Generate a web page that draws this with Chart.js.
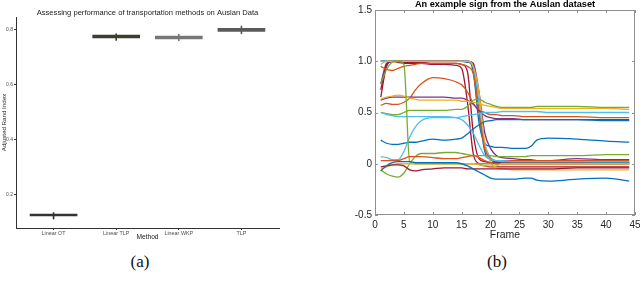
<!DOCTYPE html>
<html><head><meta charset="utf-8">
<script src="https://cdn.jsdelivr.net/npm/chart.js@4/dist/chart.umd.min.js"></script>
<style>
html,body{margin:0;padding:0;background:#fff;width:640px;height:291px;overflow:hidden;position:relative;}
canvas{position:absolute;}
.cap{position:absolute;font-family:"Liberation Serif","DejaVu Serif",serif;font-size:17px;color:#111;transform:translate(-50%,-50%);white-space:nowrap;}
</style></head><body>
<canvas id="ca" width="290" height="245" style="left:0;top:0;width:290px;height:245px"></canvas>
<canvas id="cb" width="310" height="245" style="left:330px;top:0;width:310px;height:245px"></canvas>
<div class="cap" style="left:140px;top:262px">(a)</div>
<div class="cap" style="left:497px;top:262px">(b)</div>
<script>
// ---------- (a) box plot data ----------
const methods = ["Linear OT", "Linear TLP", "Linear WKP", "TLP"];
const boxLow  = [0.1236, 0.771, 0.767, 0.795];
const boxHigh = [0.1310, 0.781, 0.778, 0.806];
const whiskLow  = [0.1127, 0.762, 0.761, 0.786];
const whiskHigh = [0.1357, 0.786, 0.784, 0.814];
const yTicksA = [0.2, 0.4, 0.6, 0.8];
const boxColors = ["#333333", "#3a3f30", "#777777", "#5a5a5a"];

// ---------- (b) line data ----------
const frames = [1,2,3,4,5,6,7,8,10,12,14,15,16,17,18,19,20,21,22,24,26,27,28,30,35,40,44];
const blueTop      = [1.00,1.00,1.00,1.00,1.00,1.00,1.00,1.00,1.00,1.00,1.00,1.00,0.99,0.97,0.50,0.12,0.04,0.02,0.02,0.02,0.02,0.02,0.02,0.02,0.02,0.01,0.01];
const blueMid      = [1.00,1.00,1.00,1.00,1.00,1.00,1.00,1.00,1.00,1.00,1.00,1.00,1.00,0.90,0.40,0.20,0.17,0.16,0.16,0.15,0.15,0.17,0.23,0.25,0.24,0.22,0.21];
const blueRise     = [0.23,0.20,0.19,0.19,0.20,0.21,0.21,0.22,0.24,0.23,0.24,0.25,0.29,0.34,0.38,0.41,0.42,0.43,0.43,0.43,0.43,0.43,0.43,0.43,0.43,0.42,0.42];
const blueLow      = [-0.07,-0.02,0.01,0.02,0.02,0.02,0.01,0.01,0.01,0.01,0.01,0.00,-0.02,-0.05,-0.08,-0.11,-0.14,-0.15,-0.15,-0.15,-0.14,-0.14,-0.16,-0.17,-0.15,-0.14,-0.17];
const lightDrop    = [0.50,0.48,0.47,0.46,0.46,0.46,0.46,0.46,0.46,0.46,0.45,0.43,0.38,0.30,0.18,0.08,0.04,0.03,0.03,0.02,0.02,0.02,0.02,0.02,0.02,0.02,0.02];
const lightRise    = [0.07,0.06,0.04,0.04,0.12,0.26,0.36,0.42,0.45,0.45,0.45,0.46,0.47,0.48,0.49,0.50,0.50,0.50,0.51,0.51,0.51,0.51,0.51,0.50,0.50,0.50,0.50];
const lightTop     = [1.00,1.00,1.00,1.00,1.00,1.00,1.00,1.00,1.00,1.00,1.00,1.00,1.00,0.95,0.60,0.20,0.06,0.03,0.02,0.02,0.02,0.02,0.02,0.02,0.02,0.02,0.02];
const redTop1      = [0.65,0.95,1.00,0.99,0.98,0.98,0.98,0.98,0.97,0.97,0.96,0.93,0.60,0.10,0.00,-0.02,-0.03,-0.03,-0.03,-0.03,-0.03,-0.03,-0.03,-0.03,-0.03,-0.03,-0.03];
const redTop2      = [0.72,0.97,1.00,1.00,0.99,0.99,0.99,0.99,0.98,0.98,0.98,0.97,0.90,0.30,0.05,0.02,0.01,0.01,0.01,0.01,0.01,0.01,0.01,0.01,0.01,0.01,0.01];
const redLow       = [-0.03,-0.02,-0.01,-0.01,-0.02,-0.06,-0.07,-0.06,-0.05,-0.04,-0.04,-0.04,-0.05,-0.05,-0.05,-0.05,-0.05,-0.05,-0.05,-0.05,-0.05,-0.05,-0.05,-0.05,-0.04,-0.04,-0.04];
const purpleMid    = [0.62,0.64,0.65,0.65,0.65,0.65,0.65,0.65,0.65,0.65,0.64,0.64,0.62,0.58,0.52,0.47,0.45,0.44,0.44,0.44,0.43,0.43,0.43,0.43,0.43,0.43,0.43];
const purpleTop    = [0.78,0.98,1.00,1.00,1.00,1.00,1.00,1.00,1.00,1.00,1.00,1.00,1.00,0.98,0.70,0.30,0.15,0.08,0.06,0.05,0.04,0.04,0.03,0.03,0.05,0.04,0.04];
const yellowMid    = [0.63,0.65,0.66,0.67,0.66,0.64,0.63,0.62,0.62,0.62,0.62,0.61,0.61,0.60,0.59,0.57,0.56,0.55,0.54,0.54,0.54,0.54,0.54,0.54,0.54,0.54,0.53];
const yellowTop    = [0.97,1.00,1.00,1.00,1.00,1.00,1.00,1.00,1.00,1.00,1.00,1.00,1.00,0.95,0.70,0.20,0.02,-0.04,-0.05,-0.06,-0.06,-0.06,-0.06,-0.06,-0.06,-0.06,-0.06];
const yellowLow    = [-0.05,-0.03,-0.01,0.00,0.00,0.00,0.00,0.00,0.00,0.00,0.00,0.00,0.00,0.00,-0.01,-0.02,-0.02,-0.02,0.00,0.00,0.00,0.00,0.00,0.00,0.00,0.00,0.00];
const orangeTop    = [0.95,0.92,0.91,0.93,0.95,0.96,0.97,0.98,0.98,0.98,0.98,0.97,0.95,0.88,0.50,0.15,0.05,0.03,0.03,0.03,0.03,0.03,0.03,0.03,0.03,0.03,0.03];
const orangeHump   = [0.57,0.59,0.58,0.58,0.60,0.64,0.72,0.78,0.84,0.83,0.80,0.77,0.70,0.59,0.52,0.50,0.48,0.48,0.47,0.47,0.46,0.46,0.46,0.46,0.46,0.45,0.45];
const orangeLow    = [0.03,0.03,0.03,0.03,0.05,0.07,0.07,0.07,0.06,0.05,0.05,0.06,0.07,0.08,0.06,0.03,0.01,0.00,0.00,0.00,0.00,0.00,0.00,0.00,0.00,0.00,0.00];
const greenTop     = [0.78,0.92,0.99,1.00,0.97,0.02,0.00,0.00,0.00,0.00,0.00,0.00,0.00,0.00,0.00,0.00,0.00,0.00,0.00,0.00,0.00,0.00,0.00,0.00,0.00,0.00,0.00];
const greenMid     = [0.50,0.49,0.48,0.48,0.50,0.52,0.52,0.52,0.52,0.52,0.53,0.53,0.56,0.62,0.63,0.60,0.58,0.56,0.55,0.55,0.55,0.55,0.56,0.56,0.56,0.55,0.55];
const greenLow     = [-0.06,-0.10,-0.12,-0.13,-0.09,0.00,0.07,0.10,0.10,0.11,0.11,0.10,0.09,0.08,0.08,0.08,0.08,0.07,0.07,0.07,0.07,0.08,0.08,0.08,0.08,0.09,0.09];
const xTicksB = [0,5,10,15,20,25,30,35,40,45];
const yTicksB = [-0.5,0,0.5,1,1.5];

const C = {blue:"#0072BD", orange:"#D95319", yellow:"#EDB120", purple:"#7E2F8E", green:"#77AC30", light:"#4DBEEE", red:"#A2142F"};
const seriesB = [
  [blueLow,C.blue],[redLow,C.red],[yellowLow,C.yellow],[orangeLow,C.orange],[greenLow,C.green],[greenTop,C.green],
  [lightRise,C.light],[lightDrop,C.light],[blueRise,C.blue],[greenMid,C.green],[yellowMid,C.yellow],[purpleMid,C.purple],
  [orangeHump,C.orange],[orangeTop,C.orange],[yellowTop,C.yellow],[purpleTop,C.purple],[lightTop,C.light],
  [blueMid,C.blue],[blueTop,C.blue],[redTop2,C.red],[redTop1,C.red]
];

const titlePlugin = {
  id:'centerTitle',
  afterDraw(chart, args, opts){
    const ctx = chart.ctx, a = chart.chartArea;
    ctx.save();
    ctx.font = opts.font; ctx.fillStyle = opts.color;
    ctx.textAlign = 'center'; ctx.textBaseline = 'middle';
    ctx.fillText(opts.text, (a.left + a.right)/2, opts.y);
    ctx.restore();
  }
};

const boxFrame = {
  id:'boxFrame',
  afterDatasetsDraw(chart){
    const ctx = chart.ctx, a = chart.chartArea;
    const xs = chart.scales.x, ys = chart.scales.y;
    ctx.save();
    ctx.strokeStyle = '#8f8f8f'; ctx.lineWidth = 1;
    ctx.strokeRect(Math.round(a.left)+0.5, Math.round(a.top)+0.5, Math.round(a.right-a.left)-1, Math.round(a.bottom-a.top)-1);
    ctx.beginPath();
    xs.ticks.forEach(t => {
      const px = Math.round(xs.getPixelForValue(t.value)) + 0.5;
      ctx.moveTo(px, a.bottom); ctx.lineTo(px, a.bottom - 3);
      ctx.moveTo(px, a.top); ctx.lineTo(px, a.top + 3);
    });
    ys.ticks.forEach(t => {
      const py = Math.round(ys.getPixelForValue(t.value)) + 0.5;
      ctx.moveTo(a.left, py); ctx.lineTo(a.left + 3, py);
      ctx.moveTo(a.right, py); ctx.lineTo(a.right - 3, py);
    });
    ctx.stroke();
    ctx.restore();
  }
};

// ---------- chart (a) ----------
new Chart(document.getElementById('ca'), {
  type:'bar',
  data:{
    datasets:[
      {data: methods.map((m,i)=>({x:i+1, y:[boxLow[i], boxHigh[i]]})), backgroundColor: boxColors, borderWidth:0, barThickness:47, grouped:false},
      {data: methods.map((m,i)=>({x:i+1, y:[whiskLow[i], whiskHigh[i]]})), backgroundColor: boxColors, borderWidth:0, barThickness:1, grouped:false}
    ]
  },
  plugins:[titlePlugin],
  options:{
    responsive:false, animation:false,
    layout:{padding:{top:17, right:11, left:0, bottom:0}},
    plugins:{legend:{display:false}, tooltip:{enabled:false},
      centerTitle:{text:'Assessing performance of transportation methods on Auslan Data', font:'7.6px "Liberation Sans", Arial, sans-serif', color:'#222', y:13}},
    scales:{
      x:{type:'linear', min:0.4, max:4.6, offset:false,
        afterBuildTicks(s){ s.ticks = methods.map((m,i)=>({value:i+1})); },
        afterFit(s){ s.height = 17; s.paddingLeft = 0; s.paddingRight = 0; },
        ticks:{callback:(v)=>methods[Math.round(v)-1], font:{family:'"Liberation Sans", Arial, sans-serif', size:5.4}, color:'#4d4d4d', padding:0, maxRotation:0, autoSkip:false},
        grid:{drawOnChartArea:false, drawTicks:true, tickLength:2, color:'#333', offset:false},
        border:{display:true, color:'#333', width:1},
        title:{display:true, text:'Method', font:{family:'"Liberation Sans", Arial, sans-serif', size:6.6}, color:'#222', padding:{top:0,bottom:3.6}}
      },
      y:{type:'linear', min:0.08, max:0.847,
        afterBuildTicks(s){ s.ticks = yTicksA.map(v=>({value:v})); },
        afterFit(s){ s.width = 16; s.paddingTop = 0; s.paddingBottom = 0; },
        ticks:{font:{family:'"Liberation Sans", Arial, sans-serif', size:5}, color:'#4d4d4d', padding:1},
        grid:{drawOnChartArea:false, drawTicks:true, tickLength:2, color:'#333'},
        border:{display:true, color:'#333', width:1},
        title:{display:true, text:'Adjusted Rand Index', font:{family:'"Liberation Sans", Arial, sans-serif', size:6.2}, color:'#222', padding:{top:0.6,bottom:0}}
      }
    }
  }
});

// ---------- chart (b) ----------
new Chart(document.getElementById('cb'), {
  type:'line',
  data:{
    datasets: seriesB.map(([vals,col]) => ({
      data: frames.map((f,i)=>({x:f, y:vals[i]})),
      borderColor: col, borderWidth:1.3, pointRadius:0, fill:false, cubicInterpolationMode:'monotone'
    }))
  },
  plugins:[titlePlugin, boxFrame],
  options:{
    responsive:false, animation:false,
    layout:{padding:{top:10, right:5, left:0, bottom:0}},
    plugins:{legend:{display:false}, tooltip:{enabled:false},
      centerTitle:{text:'An example sign from the Auslan dataset', font:'bold 9.2px "Liberation Sans", Arial, sans-serif', color:'#000', y:4.6}},
    scales:{
      x:{type:'linear', min:0, max:45,
        afterBuildTicks(s){ s.ticks = xTicksB.map(v=>({value:v})); },
        afterFit(s){ s.height = 30; s.paddingLeft = 0; s.paddingRight = 0; },
        ticks:{font:{family:'"Liberation Sans", Arial, sans-serif', size:10}, color:'#262626', padding:4, maxRotation:0, autoSkip:false},
        grid:{display:false, drawTicks:false},
        border:{display:false},
        title:{display:true, text:'Frame', font:{family:'"Liberation Sans", Arial, sans-serif', size:10.5}, color:'#262626', padding:{top:0,bottom:3.5}}
      },
      y:{type:'linear', min:-0.5, max:1.5,
        afterBuildTicks(s){ s.ticks = yTicksB.map(v=>({value:v})); },
        afterFit(s){ s.width = 45; s.paddingTop = 0; s.paddingBottom = 0; },
        ticks:{font:{family:'"Liberation Sans", Arial, sans-serif', size:10}, color:'#262626', padding:3},
        grid:{display:false, drawTicks:false},
        border:{display:false}
      }
    }
  }
});
</script>
</body></html>
